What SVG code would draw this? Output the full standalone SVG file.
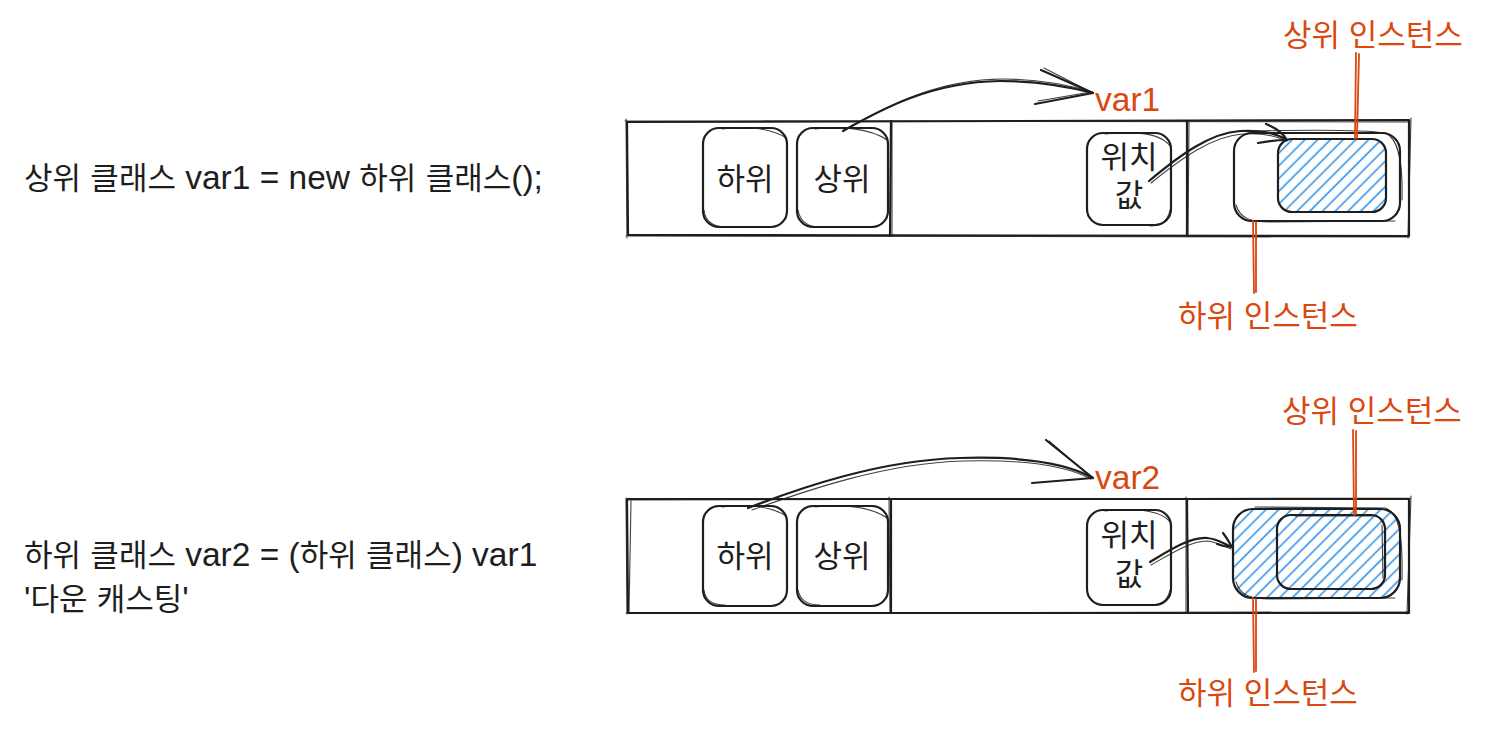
<svg xmlns="http://www.w3.org/2000/svg" width="1500" height="736" viewBox="0 0 1500 736">
<style>
.s{fill:none;stroke:#1e1e1e;stroke-width:2.2;stroke-linecap:round;stroke-linejoin:round}
.s2{fill:none;stroke:#1e1e1e;stroke-width:1.1;stroke-linecap:round;opacity:.85}
.r{fill:none;stroke:#d9480f;stroke-width:1.8;stroke-linecap:round}
.t{font-family:"Liberation Sans","Noto Sans CJK KR",sans-serif;font-size:31px;fill:#1e1e1e}
.l{font-size:33.5px}
.c{text-anchor:middle}
.rt{fill:#d9480f}
.h{fill:url(#hatch)}
</style>
<defs>
<pattern id="hatch" patternUnits="userSpaceOnUse" width="9" height="9" patternTransform="rotate(-45)">
<line x1="0" y1="4.5" x2="9" y2="4.5" stroke="#228be6" stroke-width="1.5"/>
</pattern>
</defs>
<rect width="1500" height="736" fill="#ffffff"/>

<g id="code1"><text class="t" x="24" y="189">상위<tspan class="l"> </tspan>클래스<tspan class="l"> var1 = new </tspan>하위<tspan class="l"> </tspan>클래스<tspan class="l">();</tspan></text></g>
<g id="code2"><text class="t" x="24" y="566">하위<tspan class="l"> </tspan>클래스<tspan class="l"> var2 = (</tspan>하위<tspan class="l"> </tspan>클래스<tspan class="l">) var1</tspan></text><text class="t" x="24" y="610"><tspan class="l">'</tspan>다운<tspan class="l"> </tspan>캐스팅<tspan class="l">'</tspan></text></g>

<g id="band1">
<path class="s" d="M627,122 L1409,120 L1409,236 L628,235 Z"/>
<path class="s2" d="M625,121 L1410,122 M1411,118 L1408,238 M1409,237 L626,236 M626,119 L627,238"/>
<path class="s" d="M891,121 L890,236"/>
<path class="s2" d="M892,123 L892,235"/>
<path class="s" d="M1187,121 L1187,236"/>
<path class="s2" d="M1189,122 L1188,235"/>
</g>
<g id="sub1"><rect class="s" x="703" y="128" width="84" height="99" rx="16"/><path class="s2" d="M722,129 C740,126 770,127 786,138 M704,210 C705,220 712,227 725,227"/><text class="t c" x="745" y="190">하위</text></g>
<g id="sup1"><rect class="s" x="797" y="128" width="91" height="99" rx="16"/><path class="s2" d="M815,129 C840,126 870,128 887,140 M798,210 C800,221 808,227 820,227"/><text class="t c" x="842" y="190">상위</text></g>
<g id="ref1"><rect class="s" x="1087" y="133" width="84" height="92" rx="16"/><path class="s2" d="M1105,134 C1130,131 1160,132 1170,146 M1170,210 C1168,220 1162,226 1150,226"/><text class="t c" x="1129" y="168">위치</text><text class="t c" x="1129" y="206">값</text></g>
<g id="subinst1"><rect class="s" x="1234" y="133" width="166" height="88" rx="18"/><path class="s2" d="M1255,131 C1300,130 1360,129 1385,133 C1398,138 1403,160 1402,200 M1236,205 C1240,218 1250,222 1270,222 L1395,221"/></g>
<g id="supinst1"><rect class="s h" x="1278" y="139" width="108" height="73" rx="14"/></g>
<g id="lbl1a"><text class="t rt" x="1283" y="46">상위 인스턴스</text><path class="r" d="M1356,53 L1355,139 M1359,54 L1357,138"/></g>
<g id="lbl1b"><text class="t rt" x="1178" y="327">하위 인스턴스</text><path class="r" d="M1253,221 L1254,293 M1256,222 L1256,292"/></g>
<g id="var1"><text class="t rt l" x="1095" y="111">var1</text></g>

<g id="band2">
<path class="s" d="M627,499 L1409,499 L1409,613 L628,613 Z"/>
<path class="s2" d="M626,500 L1411,498 M1411,496 L1407,614 M1408,612 L626,613 M631,501 L629,612 M626,498 L627,614"/>
<path class="s" d="M891,499 L891,613"/>
<path class="s2" d="M889,497 L890,612"/>
<path class="s" d="M1187,499 L1188,613"/>
<path class="s2" d="M1186,497 L1186,612"/>
</g>
<g id="sub2"><rect class="s" x="703" y="506" width="84" height="100" rx="16"/><path class="s2" d="M722,507 C740,504 770,505 786,516 M704,590 C705,600 712,605 725,605"/><text class="t c" x="745" y="567">하위</text></g>
<g id="sup2"><rect class="s" x="797" y="506" width="91" height="100" rx="16"/><path class="s2" d="M815,507 C840,504 870,506 887,518 M798,590 C800,600 808,605 820,605"/><text class="t c" x="842" y="567">상위</text></g>
<g id="ref2"><rect class="s" x="1087" y="510" width="84" height="95" rx="16"/><path class="s2" d="M1105,511 C1130,508 1160,509 1170,522 M1170,590 C1168,600 1162,605 1150,605"/><text class="t c" x="1129" y="546">위치</text><text class="t c" x="1129" y="585">값</text></g>
<g id="subinst2"><rect class="s h" x="1233" y="509" width="167" height="89" rx="20"/><path class="s2" d="M1255,507 L1385,508 C1398,512 1403,530 1402,580 M1236,582 C1240,595 1250,599 1270,599 L1395,598"/></g>
<g id="supinst2"><rect class="s" x="1277" y="515" width="108" height="74" rx="14"/><path class="s2" d="M1295,516 L1372,516 M1382,525 L1383,578"/></g>
<g id="lbl2a"><text class="t rt" x="1282" y="422">상위 인스턴스</text><path class="r" d="M1353,430 L1354,515 M1356,431 L1356,514"/></g>
<g id="lbl2b"><text class="t rt" x="1178" y="704">하위 인스턴스</text><path class="r" d="M1253,598 L1254,672 M1256,599 L1256,671"/></g>
<g id="var2"><text class="t rt l" x="1095" y="489">var2</text></g>

<g id="connectors">
<path class="s" d="M843,131 C880,110 930,82 1000,81 C1040,81 1070,87 1093,93"/>
<path class="s2" d="M846,129 C885,108 935,79 1003,79 C1043,79 1072,86 1092,92"/>
<path class="s" d="M1041,70 L1093,93 L1035,104"/>
<path class="s2" d="M1044,68 L1091,92 L1038,101"/>

<path class="s" d="M1149,181 C1180,155 1210,133 1240,131 C1260,130 1276,133 1287,140"/>
<path class="s2" d="M1151,183 C1183,157 1213,136 1243,134 C1262,133 1275,135 1286,141"/>
<path class="s" d="M1266,124 C1276,128 1283,133 1287,140 M1258,143 C1268,141 1279,140 1287,140"/>

<path class="s" d="M748,508 C800,488 880,460 960,458 C1030,456 1070,465 1093,478"/>
<path class="s2" d="M752,510 C805,491 885,463 963,461 C1032,459 1068,467 1091,479"/>
<path class="s" d="M1046,440 L1093,478 L1032,483"/>
<path class="s2" d="M1049,441 L1091,477"/>

<path class="s" d="M1150,562 C1170,550 1190,537 1207,538 C1218,539 1224,544 1232,547"/>
<path class="s2" d="M1151,565 C1172,553 1191,541 1207,541 C1217,542 1223,546 1231,549"/>
<path class="s" d="M1223,533 C1227,538 1229,542 1232,547 M1217,544 C1222,546 1227,547 1232,547"/>
</g>
</svg>
